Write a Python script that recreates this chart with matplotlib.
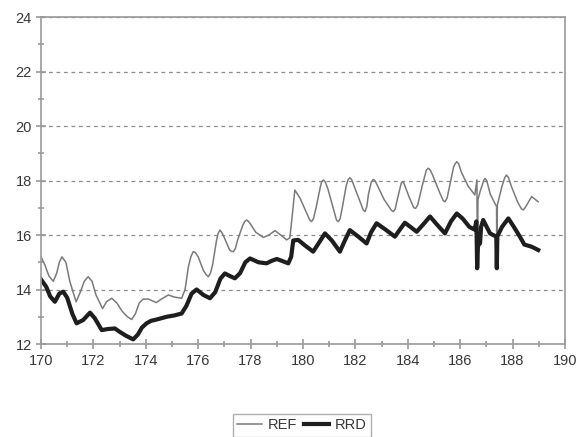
import matplotlib
matplotlib.use("Agg")
import matplotlib.pyplot as plt
from matplotlib.ticker import MultipleLocator

plt.rcParams["font.family"] = ["Liberation Sans", "DejaVu Sans"]

# REF series (thin line)
ref_x = [170.0, 170.15, 170.3, 170.47, 170.6, 170.7, 170.8, 170.95, 171.1, 171.34,
         171.5, 171.65, 171.8, 171.95, 172.1, 172.35, 172.5, 172.7, 172.9, 173.1,
         173.3, 173.46, 173.6, 173.75, 173.9, 174.1, 174.4, 174.6, 174.86, 175.1,
         175.37, 175.5, 175.62, 175.72, 175.81, 175.9, 176.0, 176.2, 176.3, 176.39,
         176.47, 176.55, 176.7, 176.76, 176.83, 176.9, 177.0, 177.2, 177.27, 177.34,
         177.42, 177.5, 177.7, 177.78, 177.85, 177.92, 178.0, 178.2, 178.49, 178.7,
         178.93, 179.15, 179.38, 179.5, 179.6, 179.69, 179.89, 180.1, 180.26, 180.33,
         180.4, 180.5, 180.65, 180.71, 180.78, 180.85, 180.95, 181.15, 181.28, 181.35,
         181.42, 181.5, 181.65, 181.72, 181.79, 181.86, 181.95, 182.15, 182.3, 182.37,
         182.44, 182.5, 182.61, 182.68, 182.75, 182.85, 183.1, 183.38, 183.45, 183.52,
         183.6, 183.75, 183.83, 184.05, 184.23, 184.3, 184.38, 184.55, 184.71, 184.78,
         184.85, 184.95, 185.2, 185.35, 185.42, 185.5, 185.6, 185.75, 185.8, 185.87,
         185.94, 186.05, 186.3, 186.56, 186.64, 186.66, 186.68, 186.76, 186.9, 186.95,
         187.02, 187.15, 187.39, 187.4, 187.42, 187.6, 187.7, 187.77, 187.84, 187.95,
         188.2, 188.34, 188.41, 188.48, 188.6, 188.73, 188.98]
ref_y = [15.2, 14.9, 14.5, 14.3, 14.6, 15.0, 15.2, 15.0, 14.3, 13.55,
         13.9, 14.3, 14.47, 14.3, 13.8, 13.3, 13.55, 13.68, 13.5, 13.2,
         13.0, 12.9, 13.1, 13.5, 13.65, 13.65, 13.52, 13.65, 13.8, 13.72,
         13.68, 14.0, 14.8, 15.2, 15.39, 15.35, 15.2, 14.7, 14.55, 14.47,
         14.6, 14.9, 15.8, 16.05, 16.18, 16.1, 15.9, 15.45, 15.4, 15.39,
         15.5, 15.8, 16.35, 16.5, 16.55, 16.5, 16.4, 16.1, 15.91, 16.0,
         16.16, 16.0, 15.82, 15.9, 16.8, 17.65, 17.35, 16.9, 16.55, 16.49,
         16.6, 17.0, 17.7, 17.95, 18.02, 17.95, 17.7, 17.0, 16.55, 16.49,
         16.6, 17.0, 17.8, 18.03, 18.1, 18.03, 17.8, 17.3, 16.92, 16.86,
         17.05, 17.5, 17.95, 18.04, 18.0, 17.8, 17.3, 16.9, 16.86, 16.95,
         17.3, 17.9, 17.96, 17.4, 17.0, 16.98, 17.1, 17.8, 18.38, 18.45,
         18.4, 18.2, 17.6, 17.27, 17.22, 17.35, 17.8, 18.5, 18.6, 18.69,
         18.62, 18.3, 17.8, 17.47, 18.02, 14.8, 17.3, 17.59, 18.0, 18.08,
         17.98, 17.5, 17.04, 14.8, 17.1, 17.8, 18.1, 18.2, 18.12, 17.8,
         17.2, 16.96, 16.92, 17.0, 17.2, 17.41, 17.22]

# RRD series (thick line)
rrd_x = [170.0, 170.2, 170.35, 170.53, 170.7, 170.85, 171.0, 171.2, 171.36, 171.61,
         171.87, 172.05, 172.32, 172.55, 172.82, 173.0, 173.25, 173.52, 173.7, 173.85,
         174.03, 174.2, 174.42, 174.8, 175.1, 175.37, 175.55, 175.75, 175.94, 176.2,
         176.45, 176.65, 176.85, 177.02, 177.2, 177.4, 177.6, 177.8, 177.98, 178.3,
         178.61, 178.8, 179.0, 179.2, 179.44, 179.55, 179.63, 179.82, 180.1, 180.39,
         180.6, 180.84, 181.1, 181.41, 181.6, 181.79, 182.1, 182.43, 182.6, 182.81,
         183.15, 183.51, 183.7, 183.89, 184.1, 184.34, 184.6, 184.85, 185.1, 185.42,
         185.65, 185.87, 186.1, 186.35, 186.55, 186.62, 186.65, 186.68, 186.76, 186.8,
         186.88, 187.14, 187.38, 187.4, 187.42, 187.6, 187.84, 188.05, 188.28, 188.45,
         188.73, 188.98]
rrd_y = [14.37, 14.1, 13.75, 13.55, 13.85, 13.92, 13.7, 13.1, 12.76, 12.88,
         13.15, 12.95, 12.51, 12.55, 12.57, 12.45, 12.3, 12.17, 12.35, 12.6,
         12.76, 12.85, 12.9, 13.0, 13.05, 13.12, 13.4, 13.85, 14.0, 13.8,
         13.68, 13.9, 14.4, 14.59, 14.5, 14.41, 14.6, 15.0, 15.14, 15.0,
         14.96, 15.05, 15.12, 15.05, 14.96, 15.2, 15.8, 15.82, 15.6, 15.39,
         15.7, 16.06, 15.8, 15.39, 15.8, 16.18, 15.95, 15.69, 16.1, 16.43,
         16.2, 15.94, 16.2, 16.45, 16.3, 16.12, 16.4, 16.68, 16.4, 16.06,
         16.5, 16.79, 16.6, 16.3, 16.2, 16.5, 14.78, 15.6, 15.7, 16.3,
         16.55, 16.06, 15.94, 14.78, 15.95, 16.3, 16.61, 16.3, 15.94, 15.65,
         15.57, 15.45]

fig = plt.figure(figsize=(5.83, 4.37), dpi=100)
ax = fig.add_axes([0.0703, 0.2128, 0.8987, 0.7482])

ax.plot(ref_x, ref_y, color="#7a7a7a", lw=1.1, label="REF", solid_joinstyle="round")
ax.plot(rrd_x, rrd_y, color="#1e1e1e", lw=3.0, label="RRD", solid_joinstyle="round")

ax.set_xlim(170, 190)
ax.set_ylim(12, 24)
ax.xaxis.set_major_locator(MultipleLocator(2))
ax.xaxis.set_minor_locator(MultipleLocator(1))
ax.yaxis.set_major_locator(MultipleLocator(2))
ax.yaxis.set_minor_locator(MultipleLocator(1))

ax.grid(axis="y", which="major", color="#8c8c8c", ls=(0, (3, 3)), lw=0.9)
ax.set_axisbelow(True)

for side in ["left", "bottom", "top", "right"]:
    ax.spines[side].set_color("#9a9a9a")
    ax.spines[side].set_linewidth(1.2)

ax.tick_params(which="both", direction="inout", color="#9a9a9a", width=1.2,
               labelsize=10.5, labelcolor="#383838")
ax.tick_params(which="major", length=7)
ax.tick_params(which="minor", length=5)
ax.tick_params(axis="x", pad=4)
ax.tick_params(axis="y", pad=3)

leg = fig.legend(loc="upper center", bbox_to_anchor=(0.518, 0.053), ncol=2,
                 frameon=True, fancybox=False, edgecolor="#9a9a9a", fontsize=10.5,
                 handlelength=1.7, handletextpad=0.4, columnspacing=0.5,
                 borderpad=0.3, borderaxespad=0)
leg.get_frame().set_linewidth(1.0)
for t in leg.get_texts():
    t.set_color("#383838")

fig.savefig("out.png", dpi=100)
